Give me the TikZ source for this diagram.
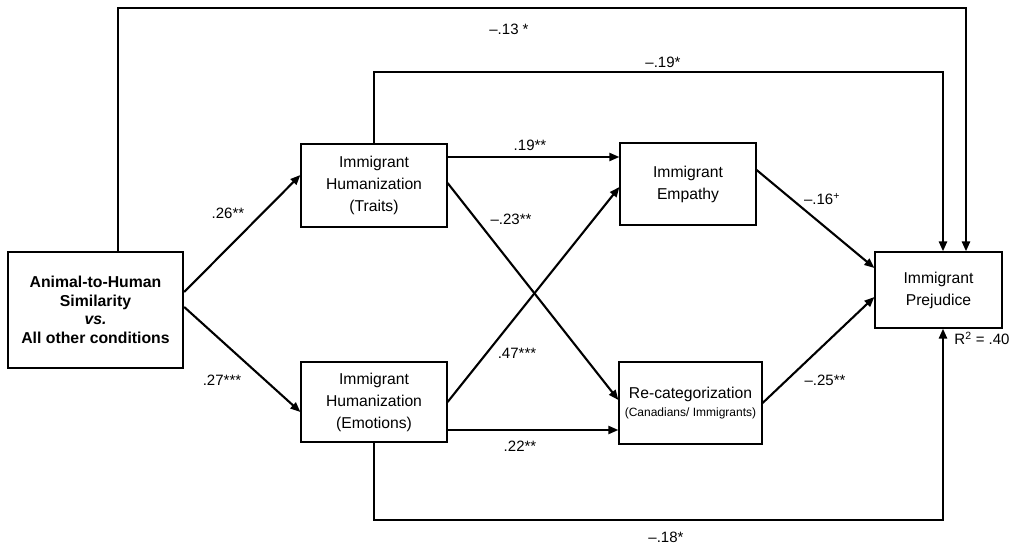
\documentclass[tikz,border=0pt]{standalone}
\usepackage{fontspec}
\setmainfont{Liberation Sans}
\usetikzlibrary{arrows.meta,calc}
\begin{document}
\begin{tikzpicture}[x=1pt,y=-1pt,
  box/.style={draw, line width=1.2pt, inner sep=0pt, align=center, font=\fontsize{15.7}{22}\selectfont},
  conn/.style={line width=2.1pt},
  arr/.style={conn, -{Triangle[length=10pt,width=8pt]}},
  lab/.style={inner sep=0pt, font=\fontsize{15}{18}\selectfont, text height=10.7pt, text depth=0pt}]
\useasboundingbox (0,0) rectangle (1021,548);

% boxes
\node[box, line width=2.4pt, minimum width=175pt, minimum height=116pt,
      font=\fontsize{15.8}{18.5}\selectfont\bfseries] (src) at (95.5,310)
  {Animal-to-Human\\Similarity\\\textit{vs.}\\All other conditions};
\node[box, minimum width=146pt, minimum height=83pt] (traits) at (374,185.5)
  {Immigrant\\Humanization\\(Traits)};
\node[box, minimum width=146pt, minimum height=80pt] (emot) at (374,402)
  {Immigrant\\Humanization\\(Emotions)};
\node[box, minimum width=136pt, minimum height=82pt] (emp) at (688,184)
  {Immigrant\\Empathy};
\node[box, minimum width=143pt, minimum height=82pt] (recat) at (690.5,403)
  {Re-categorization\\[-4pt]{\fontsize{12}{14}\selectfont (Canadians/ Immigrants)}};
\node[box, minimum width=127pt, minimum height=76pt] (prej) at (938.5,290)
  {Immigrant\\Prejudice};

% helper coordinates
\coordinate (ctop) at (500,8);
\coordinate (cmid) at (600,72);
\coordinate (cbot) at (600,520);
\coordinate (a) at ([yshift=28.5pt]traits.east);
\coordinate (b) at ([yshift=-28pt]emot.east);

% connectors
\draw[arr] ([yshift=18pt]src.east) -- ([yshift=10.5pt]traits.west);
\draw[arr] ([yshift=3pt]src.east) -- ([yshift=-10pt]emot.west);
\draw[arr] (a) -- (a -| emp.west);
\draw[arr] ([yshift=2.5pt]traits.east) -- ([yshift=3pt]recat.west);
\draw[arr] (emot.east) -- ([yshift=-3pt]emp.west);
\draw[arr] (b) -- (b -| recat.west);
\draw[arr] ([yshift=14pt]emp.east) -- ([yshift=22pt]prej.west);
\draw[arr] (recat.east) -- ([yshift=-7pt]prej.west);
\draw[arr, line width=2.4pt] ([xshift=22.5pt]src.north) |- (ctop) -| ([xshift=27.5pt]prej.north);
\draw[arr, line width=2.4pt] (traits.north) |- (cmid) -| ([xshift=4.5pt]prej.north);
\draw[arr, line width=2.4pt] (emot.south) |- (cbot) -| ([xshift=4.5pt]prej.south);

% labels
\node[lab] (l26) at (228,213) {.26**};
\node[lab] (l27) at (222,380) {.27***};
\node[lab] (l19) at (530,145) {.19**};
\node[lab] (l23) at (511,219) {–.23**};
\node[lab] (l47) at (517,353) {.47***};
\node[lab] (l22) at (520,446) {.22**};
\node[lab] (l16) at (822,199) {–.16\textsuperscript{+}};
\node[lab] (l25) at (825,380) {–.25**};
\node[lab] (l13) at (509,29) {–.13 *};
\node[lab] (l19b) at (663,62) {–.19*};
\node[lab] (l18) at (666,537) {–.18*};
\node[lab] (r2) at (982,339) {R\textsuperscript{2} = .40};
\end{tikzpicture}
\end{document}
